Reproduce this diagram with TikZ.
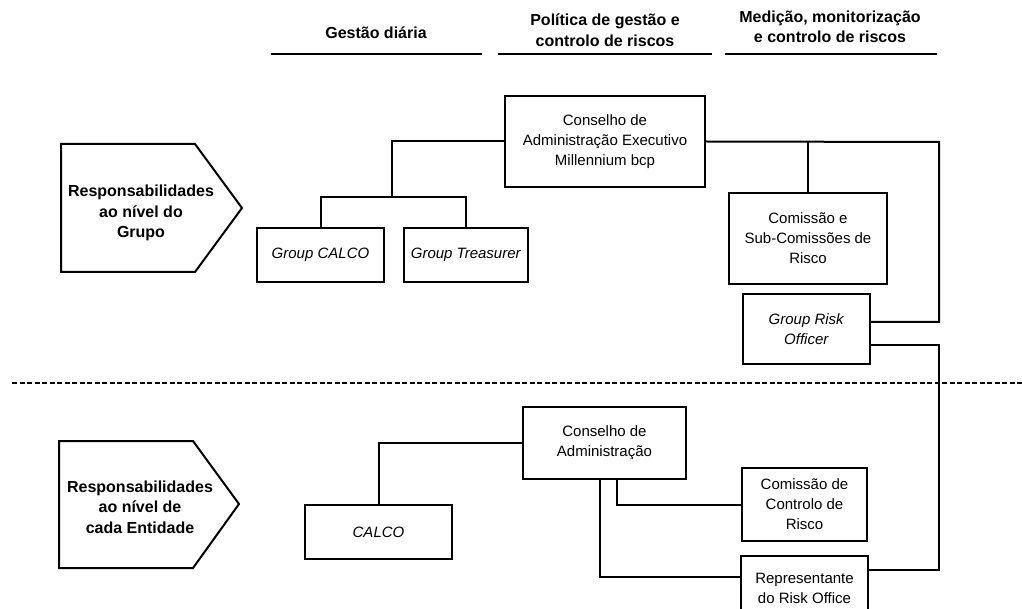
\documentclass[tikz,border=0pt]{standalone}
\usepackage{fontspec}
\setmainfont{Liberation Sans}
\usetikzlibrary{calc,positioning}
\definecolor{orgInk}{RGB}{0,0,0}

\begin{document}
\begin{tikzpicture}[x=1pt,y=-1pt,
    orgbox/.style={draw=orgInk, line width=2pt, align=center, inner sep=2pt,
        font=\fontsize{15}{20}\selectfont},
    boldtext/.style={align=center, text=orgInk, font=\fontsize{16}{20.5}\selectfont\bfseries},
    link/.style={draw=orgInk, line width=2pt},
    rule/.style={draw=orgInk, line width=2.4pt}]
    \useasboundingbox (0,0) rectangle (1022,609);

    % column headings
    \node[boldtext] (hdDaily) at (376,33) {Gestão diária};
    \node[boldtext] (hdPolicy) at (605,30) {Política de gestão e\\controlo de riscos};
    \node[boldtext] (hdMeasure) at (830,27) {Medição, monitorização\\e controlo de riscos};
    \draw[rule] (271,54)--(482,54);
    \draw[rule] (498,54)--(712,54);
    \draw[rule] (725,54)--(937,54);

    % level panels
    \draw[link] (61,144)--(195,144)--(242,208)--(195,272)--(61,272)--cycle;
    \node[boldtext] (lvGroup) at (141,213) {Responsabilidades\\ao nível do\\Grupo};
    \draw[link] (59,441)--(193,441)--(239,504)--(193,568)--(59,568)--cycle;
    \node[boldtext] (lvEntity) at (140,507) {Responsabilidades\\ao nível de\\cada Entidade};

    % separator
    \draw[orgInk, line width=2.4pt, dash pattern=on 5pt off 2.5pt] (12,383)--(1022,383);

    % group level
    \node[orgbox, minimum width=200, minimum height=91] (ceo) at (605,141.5)
        {Conselho de\\Administração Executivo\\Millennium bcp};
    \node[orgbox, minimum width=127, minimum height=54] (gCalco) at (320.5,255) {\textit{Group CALCO}};
    \node[orgbox, minimum width=124, minimum height=54] (gTreas) at (466,255) {\textit{Group Treasurer}};
    \node[orgbox, minimum width=158, minimum height=91] (riskCom) at (808,238.5)
        {Comissão e\\Sub-Comissões de\\Risco};
    \node[orgbox, minimum width=127, minimum height=70] (gRisk) at (806.5,329)
        {\textit{Group Risk}\\\textit{Officer}};

    % entity level
    \node[orgbox, minimum width=163, minimum height=72] (board) at (604.5,443)
        {Conselho de\\Administração};
    \node[orgbox, minimum width=147, minimum height=54] (calco) at (378.5,532) {\textit{CALCO}};
    \node[orgbox, minimum width=125, minimum height=73] (ctrlCom) at (804.5,504.5)
        {Comissão de\\Controlo de\\Risco};
    \node[orgbox, minimum width=127, minimum height=64] (riskRep) at (804.5,588)
        {Representante\\do Risk Office};

    % connectors
    \coordinate (gJoin) at (392,197);
    \coordinate (eastBus) at (939,142);
    \coordinate (groTop) at ($(gRisk.east)+(0,-7)$);
    \coordinate (groLow) at ($(gRisk.east)+(0,16)$);
    \coordinate (repRight) at ($(riskRep.east)+(0,-18)$);
    \coordinate (repLeft) at ($(riskRep.west)+(0,-11)$);
    \draw[link] (ceo.west) -| (gJoin);
    \draw[link] (gCalco.north) |- (gJoin) -| (gTreas.north);
    \draw[link] (ceo.east) -- (eastBus) |- (groTop);
    \draw[link] (riskCom.north) -- (riskCom.north |- eastBus);
    \draw[link] (groLow) -| (eastBus |- repRight) -- (repRight);
    \draw[link] (board.west) -| (calco.north);
    \draw[link] ($(board.south)+(12.5,0)$) |- (ctrlCom.west);
    \draw[link] ($(board.south)+(-4.5,0)$) |- (repLeft);
\end{tikzpicture}
\end{document}
